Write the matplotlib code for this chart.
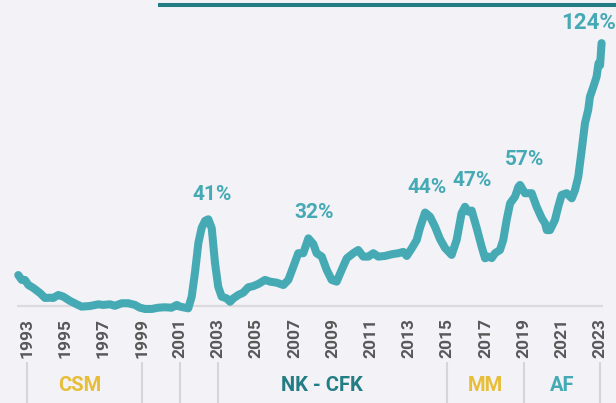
import matplotlib
matplotlib.use("Agg")
import matplotlib.pyplot as plt
from matplotlib.lines import Line2D

# ---- data (year-over-year inflation, %) ----
dates = [1993.04, 1993.22, 1993.39, 1993.57, 1993.83, 1994.18, 1994.44, 1994.70, 1994.87, 1995.14,
         1995.40, 1995.75, 1996.10, 1996.36, 1996.80, 1997.23, 1997.49, 1997.84, 1998.10, 1998.46,
         1998.80, 1999.15, 1999.41, 1999.68, 2000.03, 2000.37, 2000.72, 2001.07, 2001.34, 2001.51,
         2001.77, 2001.94, 2002.12, 2002.29, 2002.47, 2002.64, 2002.82, 2002.99, 2003.17, 2003.34,
         2003.51, 2003.69, 2003.95, 2004.13, 2004.30, 2004.56, 2004.82, 2005.08, 2005.35, 2005.61,
         2005.96, 2006.22, 2006.57, 2006.92, 2007.18, 2007.44, 2007.70, 2007.96, 2008.23, 2008.49,
         2008.66, 2008.93, 2009.19, 2009.45, 2009.71, 2009.97, 2010.24, 2010.58, 2010.84, 2011.10,
         2011.37, 2011.63, 2011.89, 2012.24, 2012.59, 2012.94, 2013.20, 2013.38, 2013.64, 2013.90,
         2014.07, 2014.34, 2014.60, 2014.86, 2015.12, 2015.38, 2015.73, 2015.99, 2016.25, 2016.43,
         2016.60, 2016.78, 2017.04, 2017.30, 2017.48, 2017.65, 2017.83, 2018.00, 2018.26, 2018.43,
         2018.61, 2018.79, 2019.05, 2019.22, 2019.31, 2019.57, 2019.92, 2020.18, 2020.45, 2020.62,
         2020.71, 2020.88, 2021.14, 2021.31, 2021.49, 2021.75, 2022.02, 2022.19, 2022.36, 2022.54,
         2022.71, 2022.88, 2022.97, 2023.15, 2023.32, 2023.42, 2023.50, 2023.58]
values = [14.6, 12.3, 12.3, 9.9, 8.5, 6.1, 3.8, 3.9, 3.8, 5.2,
          4.4, 2.4, 0.8, -0.3, 0.0, 0.8, 0.5, 0.8, 0.1, 1.3,
          1.3, 0.5, -0.8, -1.4, -1.4, -0.8, -0.6, -0.8, 0.5, -0.3,
          -0.8, -1.1, 4.4, 15.6, 29.7, 36.8, 40.2, 40.9, 36.7, 20.3,
          9.1, 4.4, 3.6, 2.0, 3.6, 5.2, 6.3, 8.8, 9.4, 10.4,
          12.3, 11.5, 11.0, 9.9, 12.3, 18.5, 24.9, 24.9, 31.9, 29.2,
          24.9, 23.3, 17.0, 12.3, 11.5, 17.0, 22.5, 24.9, 26.4, 23.3,
          23.3, 24.9, 23.3, 23.6, 24.4, 24.9, 25.5, 23.6, 27.2, 31.1,
          36.8, 44.1, 42.1, 37.4, 31.6, 27.4, 24.1, 31.1, 43.7, 46.8,
          44.5, 45.0, 36.8, 28.0, 22.5, 23.3, 22.6, 24.9, 26.4, 31.1,
          40.6, 48.4, 51.6, 56.1, 57.1, 53.2, 53.2, 46.8, 41.4, 39.0,
          35.8, 35.8, 40.6, 46.8, 52.4, 53.2, 50.8, 54.7, 61.0, 73.6,
          86.2, 92.5, 98.7, 103.4, 108.2, 114.5, 113.5, 124.0]

tick_years = list(range(1993, 2024, 2))

peak_labels = ["41%", "32%", "44%", "47%", "57%", "124%"]
peak_label_x = [2003.18, 2008.52, 2014.44, 2016.80, 2019.57, 2022.92]
peak_label_y = [52.4, 43.9, 55.7, 59.0, 69.3, 133.7]
peak_label_size = [15, 15, 15, 15, 15, 16]

periods = ["CSM", "NK - CFK", "MM", "AF"]
period_label_x = [1996.27, 2008.94, 2017.48, 2021.51]
period_bounds = [1993, 1999, 2001, 2003, 2015, 2019, 2023]

# ---- style ----
BG = "#F2F2F7"
LINE = "#46AAB5"
DARK_TEAL = "#237D84"
YELLOW = "#E8BD38"
TICK_C = "#585858"
period_colors = [YELLOW, DARK_TEAL, YELLOW, LINE]
FONT = ["Roboto", "DejaVu Sans"]

W, H = 616, 403
fig = plt.figure(figsize=(W / 100, H / 100), dpi=100)
fig.patch.set_facecolor(BG)

base_px = 306.0
ax = fig.add_axes([0, (H - base_px) / H, 1, base_px / H])
ax.set_facecolor(BG)
ax.set_xlim(1992.084, 2024.335)
ax.set_ylim(0, base_px / 2.12)
for s in ax.spines.values():
    s.set_visible(False)
ax.set_yticks([])

ax.set_xticks([y + 0.5 for y in tick_years])
ax.set_xticklabels([str(y) for y in tick_years], rotation=90, fontsize=12.5,
                   fontweight="bold", color=TICK_C, family=FONT)
ax.tick_params(axis="x", length=0, pad=8.6)

# baseline
ax.hlines(0, dates[0] - 0.05, dates[-1] + 0.1, color="#DADADF", lw=1.6, zorder=1, clip_on=False)

# series
ax.plot(dates, values, color=LINE, lw=5.8, solid_joinstyle="round",
        solid_capstyle="round", clip_on=False, zorder=3)

for lab, x, y, fs in zip(peak_labels, peak_label_x, peak_label_y, peak_label_size):
    ax.text(x, y, lab, ha="center", va="center", fontsize=fs, fontweight="bold",
            color=LINE, family=FONT, zorder=4, clip_on=False)

# presidency bands
ax.vlines([b + 0.5 for b in period_bounds], -26.4, -46, color="#D6D6DA", lw=1.5, clip_on=False)
for lab, x, c in zip(periods, period_label_x, period_colors):
    ax.text(x, -37.3, lab, ha="center", va="center", fontsize=14.5, fontweight="bold",
            color=c, family=FONT, clip_on=False)

# top rule
fig.add_artist(Line2D([160 / W, 1], [1 - 4.7 / H] * 2, color=DARK_TEAL, lw=2.9))

fig.savefig("out.png", dpi=100, facecolor=BG)
